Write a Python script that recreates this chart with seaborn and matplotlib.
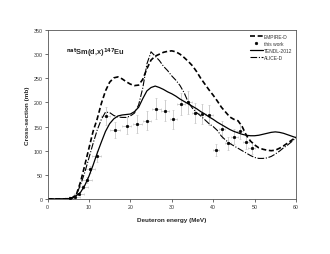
import numpy as np
import pandas as pd
import matplotlib
matplotlib.use("Agg")
import matplotlib.pyplot as plt
import seaborn as sns

# 模型计算曲线 (能量 MeV, 截面 mb)
energy_grid = [0, 4, 5, 6, 7, 8, 9, 10, 11, 12, 13, 14, 15, 16, 17, 18, 19, 20,
               21, 22, 23, 24, 25, 26, 27, 28, 29, 30, 31, 32, 33, 34, 35, 36,
               37, 38, 39, 40, 41, 42, 43, 44, 45, 46, 47, 48, 49, 50, 51, 52,
               53, 54, 55, 56, 57, 58, 59, 60]
empire_d = [0, 0, 0.5, 2, 10, 36, 70, 105, 140, 166, 198, 224, 242, 251, 253,
            249, 243, 238, 235, 236, 248, 270, 288, 296, 300, 304, 306, 307,
            305, 300, 293, 285, 276, 264, 250, 238, 226, 215, 203, 190, 180,
            170, 165, 162, 150, 132, 120, 112, 106, 103, 101, 100, 101, 105,
            110, 116, 122, 128]
tendl_2012 = [0, 0, 0.5, 3, 7, 14, 28, 47, 70, 95, 118, 140, 156, 166, 172,
              174, 175, 176, 181, 190, 208, 224, 231, 234, 231, 227, 222, 218,
              213, 207, 202, 197, 192, 187, 181, 176, 170, 165, 159, 154, 149,
              144, 140, 137, 134, 132, 131, 131, 132, 134, 136, 138, 139, 138,
              136, 133, 130, 127]
alice_d = [0, 0, 0, 2, 9, 30, 55, 85, 115, 143, 165, 180, 179, 173, 170, 169,
           169, 172, 178, 195, 230, 280, 305, 296, 287, 275, 266, 255, 246,
           235, 220, 200, 188, 179, 172, 164, 156, 150, 142, 130, 122, 115,
           110, 105, 100, 95, 90, 86, 84, 84, 85, 88, 93, 99, 106, 112, 119,
           127]

# 实验数据 (this work)
exp_energy = [5.4, 6.6, 7.7, 8.5, 9.5, 10.3, 11.9, 14.1, 16.3, 19.1, 21.7,
              24.1, 26.3, 28.3, 30.4, 32.2, 34.0, 35.7, 37.4, 39.0, 40.7,
              42.1, 43.6, 45.1, 46.5, 47.9, 49.3]
exp_xs = [1.5, 3.5, 10, 24, 40, 61, 88, 172, 143, 152, 156, 162, 187, 183,
          165, 197, 200, 178, 176, 174, 101, 144, 115, 129, 141, 117, 106]
exp_xs_err = [0.5, 0.8, 2, 4, 6, 8, 11, 18, 17, 18, 19, 20, 22, 22, 20, 23,
              24, 21, 21, 20, 12, 17, 14, 15, 17, 14, 13]
exp_energy_err = [1.3, 1.3, 1.2, 1.2, 1.2, 1.2, 1.1, 1.1, 1.1, 1.0, 1.0, 1.0,
                  1.0, 1.0, 0.9, 0.9, 0.9, 0.9, 0.9, 0.9, 0.8, 0.8, 0.8, 0.8,
                  0.8, 0.8, 0.8]

x_ticks = [0, 10, 20, 30, 40, 50, 60]
y_ticks = [0, 50, 100, 150, 200, 250, 300, 350]

sns.set_style("ticks")
plt.rcParams['font.family'] = ['Liberation Sans', 'DejaVu Sans']

curves = pd.DataFrame({'E': energy_grid, 'EMPIRE-D': empire_d,
                       'TENDL-2012': tendl_2012, 'ALICE-D': alice_d})
exp = pd.DataFrame({'E': exp_energy, 'xs': exp_xs})

fig = plt.figure(figsize=(3.3, 2.55), dpi=100)
ax = fig.add_axes([0.144, 0.216, 0.753, 0.662])

ax.errorbar(exp_energy, exp_xs, yerr=exp_xs_err, xerr=exp_energy_err,
            fmt='none', ecolor='#bcbcbc', elinewidth=0.5, capsize=0.8,
            capthick=0.4, zorder=1)

sns.lineplot(data=curves, x='E', y='EMPIRE-D', ax=ax, color='black',
             linewidth=1.2, linestyle=(0, (3, 1.6)), label='EMPIRE-D')
sns.scatterplot(data=exp, x='E', y='xs', ax=ax, color='black', s=4,
                edgecolor='black', linewidth=0.3, label='this work', zorder=3)
sns.lineplot(data=curves, x='E', y='TENDL-2012', ax=ax, color='black',
             linewidth=0.9, label='TENDL-2012')
sns.lineplot(data=curves, x='E', y='ALICE-D', ax=ax, color='black',
             linewidth=0.8, linestyle=(0, (6, 1.5, 1, 1.5)), label='ALICE-D')

ax.set_xlim(0, 60)
ax.set_ylim(0, 350)
ax.set_xticks(x_ticks)
ax.set_yticks(y_ticks)
ax.tick_params(labelsize=3.8, length=2, width=0.5, pad=1.5, colors='#333333')
for s in ax.spines.values():
    s.set_linewidth(0.6)
    s.set_color('#555555')

ax.set_xlabel('Deuteron energy (MeV)', fontsize=4.6, fontweight='bold',
              labelpad=6)
ax.set_ylabel('Cross-section (mb)', fontsize=4.6, fontweight='bold',
              labelpad=2.5)

ax.text(0.075, 0.855, r'$^{\mathbf{nat}}$Sm(d,x)$^{\mathbf{147}}$Eu',
        transform=ax.transAxes, fontsize=5.3, fontweight='bold')

leg = ax.legend(loc='upper right', fontsize=3.5, frameon=False,
                handlelength=2.6, handletextpad=0.3, labelspacing=0.45,
                borderaxespad=0.3)
for t in leg.get_texts():
    t.set_color('#333333')

fig.savefig('out.png', dpi=100)
